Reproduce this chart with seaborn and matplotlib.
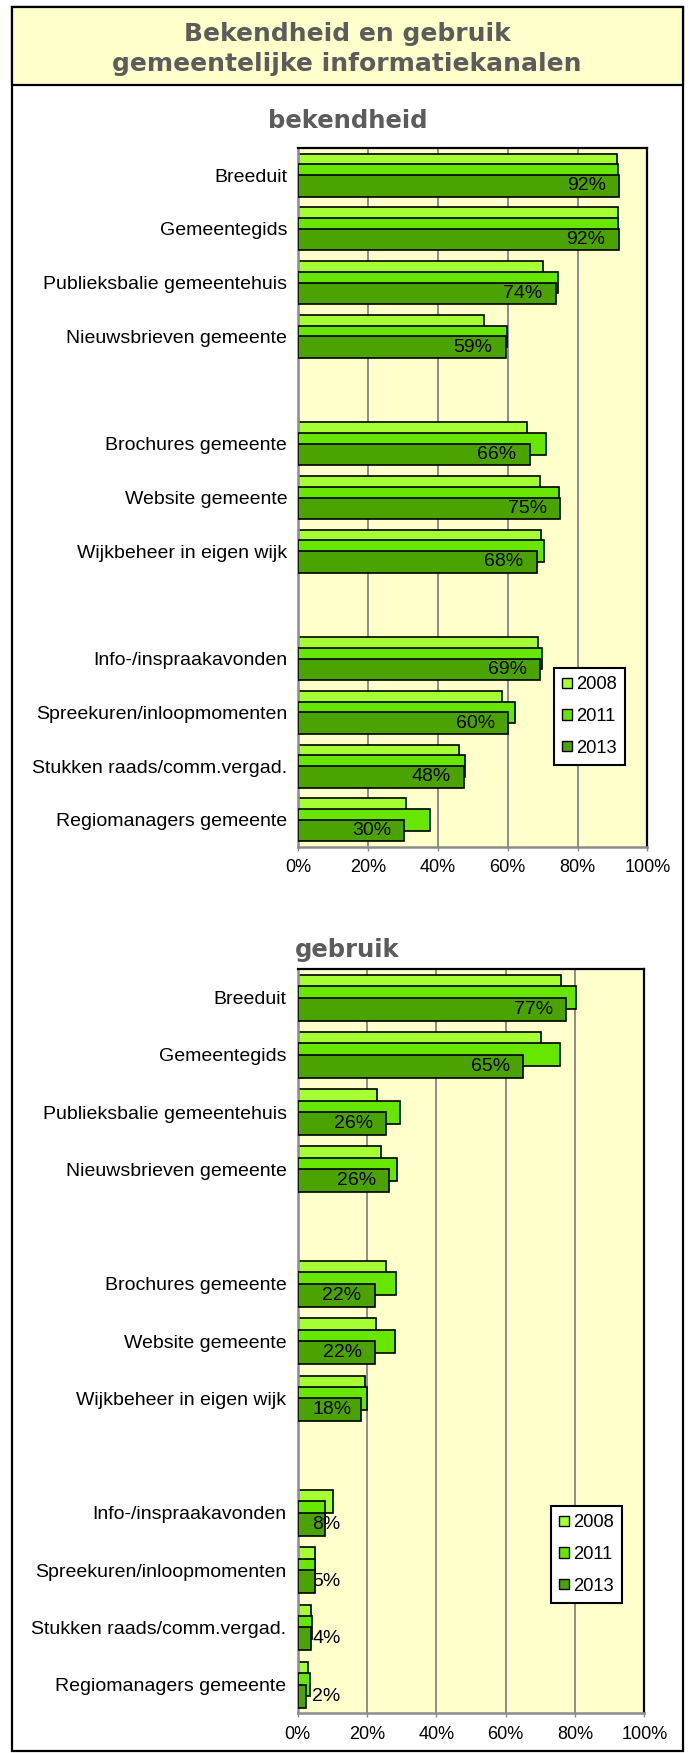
import numpy as np
import pandas as pd
import matplotlib
matplotlib.use("Agg")
import matplotlib.pyplot as plt
import seaborn as sns
from matplotlib.patches import Rectangle, Patch
from matplotlib.ticker import PercentFormatter
from matplotlib.transforms import ScaledTranslation

# data (percentages)
kanalen = ["Breeduit", "Gemeentegids", "Publieksbalie gemeentehuis", "Nieuwsbrieven gemeente",
           "Brochures gemeente", "Website gemeente", "Wijkbeheer in eigen wijk",
           "Info-/inspraakavonden", "Spreekuren/inloopmomenten", "Stukken raads/comm.vergad.",
           "Regiomanagers gemeente"]
jaren = ["2008", "2011", "2013"]

bekend_2008 = [91.2, 91.5, 70.2, 53.2, 65.6, 69.3, 69.5, 68.8, 58.3, 46.1, 31.0]
bekend_2011 = [91.7, 91.6, 74.3, 59.9, 71.0, 74.8, 70.5, 69.7, 62.2, 47.8, 37.6]
bekend_2013 = [92.0, 91.8, 73.8, 59.4, 66.3, 75.0, 68.3, 69.3, 60.2, 47.6, 30.4]

gebruik_2008 = [76.1, 70.2, 22.9, 24.1, 25.6, 22.5, 19.5, 10.3, 5.0, 3.8, 3.0]
gebruik_2011 = [80.3, 75.6, 29.5, 28.7, 28.5, 28.0, 20.1, 7.9, 5.1, 4.0, 3.6]
gebruik_2013 = [77.4, 65.1, 25.6, 26.4, 22.2, 22.4, 18.2, 7.9, 5.1, 3.9, 2.4]

groepen = [4, 3, 4]   # blocks of channels, one empty row between them
kleuren = ["#a6ff33", "#66e600", "#4aa300"]

plt.rcParams['font.family'] = ['Liberation Sans', 'DejaVu Sans']

W, H = 690, 1753
fig = plt.figure(figsize=(W / 100, H / 100), dpi=100)
fig.patch.set_facecolor("white")

# row positions with a blank row between groups
slots = []
pos = 0
for n in groepen:
    slots += list(range(pos, pos + n))
    pos += n + 1
slots = np.array(slots)
nrows = pos - 1


def px_rect(left, top, right, bottom):
    return [left / W, 1 - bottom / H, (right - left) / W, (bottom - top) / H]


def teken(ax, reeksen, legend_xy):
    for i, vals in enumerate(reeksen):
        df = pd.DataFrame({"pct": vals, "pos": slots + (i - 1) * 0.2})
        sns.barplot(data=df, x="pct", y="pos", orient="y", native_scale=True, width=0.4,
                    color=kleuren[i], saturation=1, edgecolor="black", linewidth=1.2,
                    errorbar=None, ax=ax, zorder=2 + i)
    ax.set_ylim(nrows - 0.5, -0.5)
    ax.set_yticks(slots, kanalen)
    ax.set_xlim(0, 100)
    ax.set_xticks(range(0, 101, 20))
    ax.xaxis.set_major_formatter(PercentFormatter(decimals=0))
    ax.set_xlabel("")
    ax.set_ylabel("")
    ax.set_facecolor("#ffffcc")
    ax.grid(axis="x", color="#8c8c8c", lw=1.4)
    ax.grid(axis="y", visible=False)
    ax.set_axisbelow(True)
    for s in ["left", "bottom"]:
        ax.spines[s].set_color("#8c8c8c")
        ax.spines[s].set_linewidth(1.8)
    for s in ["top", "right"]:
        ax.spines[s].set_color("black")
        ax.spines[s].set_linewidth(1.6)
    ax.tick_params(axis="y", length=0, pad=8, labelsize=14)
    ax.tick_params(axis="x", length=3, width=1, color="#8c8c8c", pad=6, labelsize=13)

    # labels of the 2013 series, inside the bar end
    fig.canvas.draw()
    rend = fig.canvas.get_renderer()
    links = ax.get_window_extent().x0
    for p, v in zip(slots + 0.2, reeksen[2]):
        t = ax.text(v, p, f"{v:.0f}%", ha="right", va="center", fontsize=14, zorder=10,
                    transform=ax.transData + ScaledTranslation(-9.5 / 72, 0, fig.dpi_scale_trans))
        if t.get_window_extent(rend).x0 < links + 14:
            t.set_x(0)
            t.set_ha("left")
            t.set_transform(ax.transData + ScaledTranslation(10.5 / 72, 0, fig.dpi_scale_trans))

    handles = [Patch(facecolor=c, edgecolor="black", lw=1) for c in kleuren]
    leg = ax.legend(handles, jaren, loc="upper left",
                    bbox_to_anchor=(legend_xy[0] / W, 1 - legend_xy[1] / H),
                    bbox_transform=fig.transFigure, fancybox=False, framealpha=1,
                    edgecolor="black", borderpad=0.45, labelspacing=0.8,
                    handlelength=0.5, handleheight=0.5, handletextpad=0.25,
                    fontsize=13.2)
    leg.get_frame().set_linewidth(1.5)


ax1 = fig.add_axes(px_rect(298.3, 148.3, 647.3, 846.7))
teken(ax1, [bekend_2008, bekend_2011, bekend_2013], (545, 659))

ax2 = fig.add_axes(px_rect(297.7, 969, 644.3, 1713.3))
teken(ax2, [gebruik_2008, gebruik_2011, gebruik_2013], (542, 1497))

# outer frame and title box
fig.add_artist(Rectangle((11.7 / W, 1 - 1751 / H), 671 / W, 1744 / H, transform=fig.transFigure,
                         fill=False, edgecolor="black", lw=1.6, zorder=0))
fig.add_artist(Rectangle((11.7 / W, 1 - 85 / H), 671 / W, 78 / H, transform=fig.transFigure,
                         facecolor="#ffffcc", edgecolor="black", lw=1.6, zorder=0))

grijs = "#5c5c5c"
fig.text(347 / W, 1 - 41 / H, "Bekendheid en gebruik", ha="center", va="baseline",
         fontsize=18, fontweight="bold", family="DejaVu Sans", color=grijs)
fig.text(347 / W, 1 - 71 / H, "gemeentelijke informatiekanalen", ha="center", va="baseline",
         fontsize=18, fontweight="bold", family="DejaVu Sans", color=grijs)
fig.text(348 / W, 1 - 128 / H, "bekendheid", ha="center", va="baseline",
         fontsize=17.5, fontweight="bold", family="DejaVu Sans", color=grijs)
fig.text(347 / W, 1 - 957 / H, "gebruik", ha="center", va="baseline",
         fontsize=17.5, fontweight="bold", family="DejaVu Sans", color=grijs)

fig.savefig("out.png", dpi=100)
